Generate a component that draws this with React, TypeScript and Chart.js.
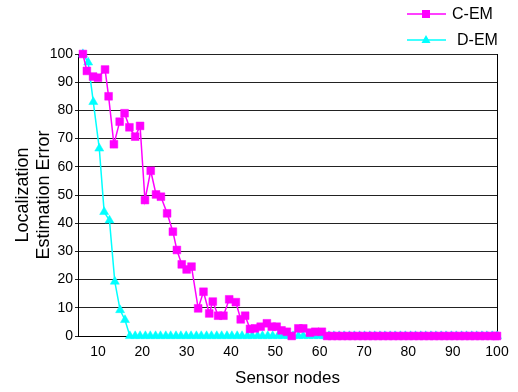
import React, { useEffect, useRef } from 'react';
import { Chart, registerables } from 'chart.js';

Chart.register(...registerables);

const SERIES_NAMES = ['C-EM', 'D-EM'];
const X_TITLE = 'Sensor nodes';
const Y_TITLE = ['Localization', 'Estimation Error'];
const X_TICKS = [10, 20, 30, 40, 50, 60, 70, 80, 90, 100];
const Y_TICKS = [0, 10, 20, 30, 40, 50, 60, 70, 80, 90, 100];

const C_EM_X = [
  6.6, 7.5, 8.9, 10.0, 11.6, 12.4, 13.6, 14.9, 16.0, 17.1, 18.4, 19.5,
  20.6, 21.9, 23.1, 24.2, 25.6, 26.9, 27.8, 28.9, 30.0, 31.1, 32.6, 33.8,
  35.1, 35.9, 37.1, 38.3, 39.6, 41.1, 42.2, 43.2, 44.3, 45.4, 46.7, 48.1,
  49.2, 50.3, 51.4, 52.6, 53.7, 55.2, 56.3, 57.8, 59.0, 60.5, 61.7,
  62.8, 64.0, 65.1, 66.3, 67.4, 68.6, 69.7, 70.9, 72.0, 73.2, 74.3, 75.5,
  76.6, 77.8, 78.9, 80.1, 81.2, 82.4, 83.5, 84.7, 85.8, 87.0, 88.1, 89.3,
  90.4, 91.6, 92.7, 93.9, 95.0, 96.2, 97.3, 98.5, 99.6, 100,
];
const C_EM_Y = [
  100, 94, 92, 91.6, 94.5, 85, 68, 76, 79, 74, 70.7, 74.5,
  48.2, 58.6, 50.2, 49.4, 43.5, 37, 30.5, 25.4, 23.6, 24.6, 9.8, 15.7,
  8, 12.2, 7.2, 7.2, 13, 12, 5.9, 7.2, 2.5, 2.7, 3.3, 4.5,
  3.3, 3.3, 2, 1.5, 0, 2.7, 2.7, 1.2, 1.5, 1.5, 0,
  0, 0, 0, 0, 0, 0, 0, 0, 0, 0, 0, 0,
  0, 0, 0, 0, 0, 0, 0, 0, 0, 0, 0, 0,
  0, 0, 0, 0, 0, 0, 0, 0, 0, 0,
];

const D_EM_X = [
  6.6, 7.8, 8.95, 10.3, 11.4, 12.6, 13.8, 15.0, 16.1, 17.2,
  18.4, 19.5, 20.7, 21.8, 23.0, 24.1, 25.3, 26.4, 27.6, 28.7, 29.9, 31.0,
  32.2, 33.3, 34.5, 35.6, 36.8, 37.9, 39.1, 40.2, 41.4, 42.5, 43.7, 44.8,
  46.0, 47.1, 48.3, 49.4, 50.6, 51.7, 52.9, 54.0, 55.2, 56.3, 57.5, 58.6,
  59.8, 60.9, 62.1, 63.2, 64.4, 65.5, 66.7, 67.8, 69.0, 70.1, 71.3, 72.4,
  73.6, 74.7, 75.9, 77.0, 78.2, 79.3, 80.5, 81.6, 82.8, 83.9, 85.1, 86.2,
  87.4, 88.5, 89.7, 90.8, 92.0, 93.1, 94.3, 95.4, 96.6, 97.7, 98.9, 100,
];
const D_EM_Y = [
  100, 97, 83, 66.5, 44, 41, 19.3, 9.2, 5.7, 0,
  0, 0, 0, 0, 0, 0, 0, 0, 0, 0, 0, 0,
  0, 0, 0, 0, 0, 0, 0, 0, 0, 0, 0, 0,
  0, 0, 0, 0, 0, 0, 0, 0, 0, 0, 0, 0,
  0, 0, 0, 0, 0, 0, 0, 0, 0, 0, 0, 0,
  0, 0, 0, 0, 0, 0, 0, 0, 0, 0, 0, 0,
  0, 0, 0, 0, 0, 0, 0, 0, 0, 0, 0, 0,
];

const FONT = "'Liberation Sans', Arial, Helvetica, sans-serif";
const C_COLOR = '#FF00FF';
const D_COLOR = '#00FFFF';

const lineLegend = {
  id: 'lineLegend',
  afterDraw(chart: any) {
    const ctx = chart.ctx as CanvasRenderingContext2D;
    const rows = [
      { y: 14, textX: 452 },
      { y: 40, textX: 457 },
    ];
    const x0 = 407;
    const x1 = 446;
    const mx = 426;
    ctx.save();
    chart.data.datasets.forEach((ds: any, i: number) => {
      const r = rows[i];
      if (!r) return;
      ctx.strokeStyle = ds.borderColor;
      ctx.fillStyle = ds.backgroundColor;
      ctx.lineWidth = 1.5;
      ctx.beginPath();
      ctx.moveTo(x0, r.y);
      ctx.lineTo(x1, r.y);
      ctx.stroke();
      ctx.beginPath();
      if (ds.pointStyle === 'rect') {
        ctx.rect(mx - 4, r.y - 4, 8, 8);
      } else {
        ctx.moveTo(mx, r.y - 5);
        ctx.lineTo(mx + 4.5, r.y + 3);
        ctx.lineTo(mx - 4.5, r.y + 3);
        ctx.closePath();
      }
      ctx.fill();
      ctx.fillStyle = '#000';
      ctx.font = `16px ${FONT}`;
      ctx.textBaseline = 'middle';
      ctx.textAlign = 'left';
      ctx.fillText(ds.label, r.textX, r.y + 1);
    });
    ctx.restore();
  },
};

export default function App() {
  const ref = useRef<HTMLCanvasElement | null>(null);

  useEffect(() => {
    if (!ref.current) return;
    const chart = new Chart(ref.current, {
      type: 'line',
      data: {
        datasets: [
          {
            label: SERIES_NAMES[0],
            data: C_EM_X.map((x, i) => ({ x, y: C_EM_Y[i] })),
            borderColor: C_COLOR,
            backgroundColor: C_COLOR,
            pointBackgroundColor: C_COLOR,
            pointBorderColor: C_COLOR,
            pointStyle: 'rect',
            pointRadius: 5.5,
            pointBorderWidth: 0.5,
            borderWidth: 1.5,
            tension: 0,
            clip: false,
          } as any,
          {
            label: SERIES_NAMES[1],
            data: D_EM_X.map((x, i) => ({ x, y: D_EM_Y[i] })),
            borderColor: D_COLOR,
            backgroundColor: D_COLOR,
            pointBackgroundColor: D_COLOR,
            pointBorderColor: D_COLOR,
            pointStyle: 'triangle',
            pointRadius: 5.2,
            pointBorderWidth: 0.5,
            borderWidth: 1.5,
            tension: 0,
            clip: false,
          } as any,
        ],
      },
      options: {
        animation: false,
        responsive: false,
        maintainAspectRatio: false,
        events: [],
        layout: { padding: { top: 54, right: 21, bottom: 0, left: 0 } },
        plugins: {
          legend: { display: false },
          tooltip: { enabled: false },
        },
        scales: {
          x: {
            type: 'linear',
            min: 5.5,
            max: 100,
            afterBuildTicks: (s: any) => {
              s.ticks = X_TICKS.map((v) => ({ value: v }));
            },
            afterFit: (s: any) => {
              s.height = 56;
            },
            grid: { display: false, drawTicks: false },
            border: { display: true, color: '#000', width: 1 },
            ticks: {
              font: { family: FONT, size: 14 },
              color: '#000',
              padding: 8,
              maxRotation: 0,
              autoSkip: false,
            },
            title: {
              display: true,
              text: X_TITLE,
              font: { family: FONT, size: 17 },
              color: '#000',
              padding: { top: 0, bottom: 3 },
            },
          },
          y: {
            type: 'linear',
            min: 0,
            max: 100,
            afterBuildTicks: (s: any) => {
              s.ticks = Y_TICKS.map((v) => ({ value: v }));
            },
            afterFit: (s: any) => {
              s.width = 78;
            },
            grid: { color: '#222', lineWidth: 1, drawTicks: true, tickLength: 3 },
            border: { display: true, color: '#000', width: 1 },
            ticks: {
              font: { family: FONT, size: 14 },
              color: '#000',
              padding: 2,
            },
            title: {
              display: true,
              text: Y_TITLE,
              font: { family: FONT, size: 18, lineHeight: 1.15 },
              color: '#000',
              padding: { top: 13, bottom: 0 },
            },
          },
          y2: {
            type: 'linear',
            position: 'right',
            min: 0,
            max: 100,
            grid: { display: false, drawTicks: false },
            ticks: { display: false },
            border: { display: true, color: '#000', width: 1 },
            afterFit: (s: any) => {
              s.width = 0;
            },
          },
        },
      },
      plugins: [lineLegend],
    } as any);
    return () => chart.destroy();
  }, []);

  return (
    <div style={{ position: 'absolute', left: 0, top: 0, width: 518, height: 392, background: '#fff' }}>
      <canvas ref={ref} width={518} height={392} style={{ display: 'block' }} />
    </div>
  );
}
